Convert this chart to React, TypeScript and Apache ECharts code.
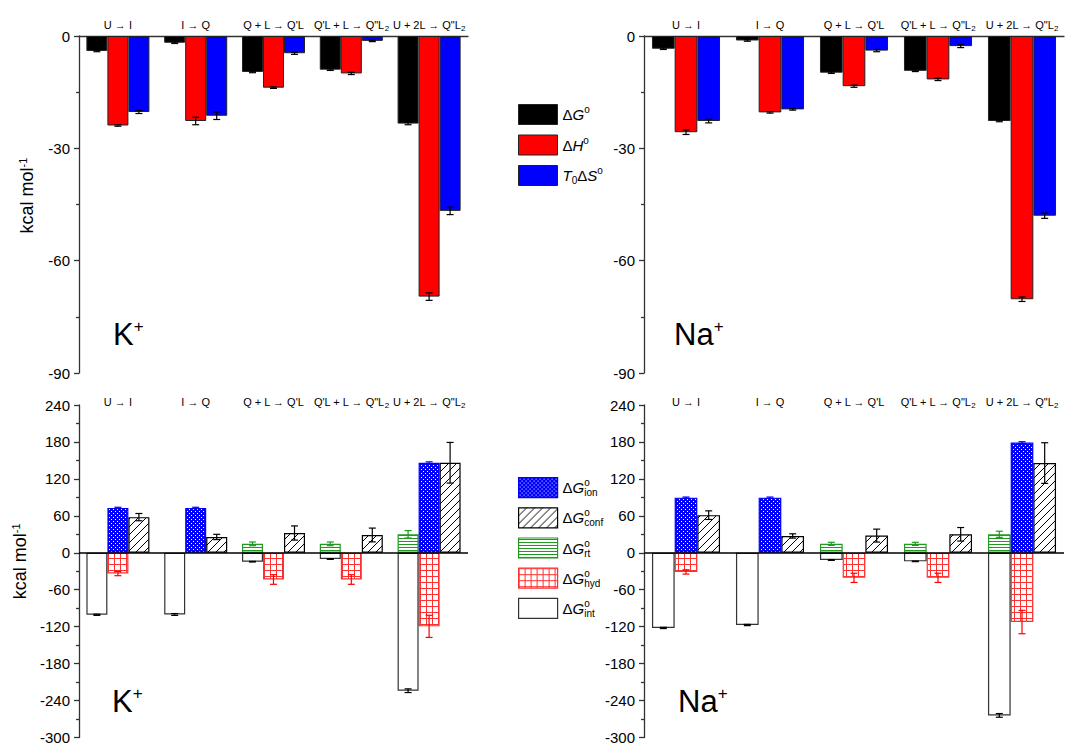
import React, { useEffect, useRef } from 'react';
import * as echarts from 'echarts';

const FONT = "'Liberation Sans', Arial, Helvetica, sans-serif";

const categories = ['U → I', 'I → Q', "Q + L → Q'L", "Q'L + L → Q\"L2", 'U + 2L → Q"L2'];

// Top panels: ΔG°, ΔH°, T0ΔS° (kcal/mol)
const dG_K = [-4.0, -1.8, -9.6, -9.0, -23.4];
const dH_K = [-23.9, -22.7, -13.8, -10.0, -69.6];
const TdS_K = [-20.3, -21.3, -4.6, -1.3, -46.7];
const dG_K_err = [0.2, 0.2, 0.2, 0.2, 0.3];
const dH_K_err = [0.2, 1.0, 0.2, 0.3, 1.0];
const TdS_K_err = [0.4, 1.0, 0.3, 0.2, 1.0];

const dG_Na = [-3.4, -1.2, -9.8, -9.3, -22.7];
const dH_Na = [-25.7, -20.4, -13.4, -11.6, -70.3];
const TdS_Na = [-22.7, -19.6, -3.9, -2.7, -48.0];
const dG_Na_err = [0.2, 0.2, 0.2, 0.2, 0.2];
const dH_Na_err = [0.6, 0.2, 0.3, 0.3, 0.6];
const TdS_Na_err = [0.5, 0.2, 0.3, 0.4, 0.7];

// Bottom panels: ΔG° components (kcal/mol)
const ion_K = [72.9, 72.9, null, null, 146.2];
const conf_K = [57.9, 25.7, 32.1, 28.9, 146.2];
const rt_K = [null, null, 14.5, 14.5, 30.0];
const hyd_K = [-33.7, null, -43.4, -43.4, -119.5];
const int_K = [-100.7, -100.2, -14.5, -10.2, -224.0];
const ion_K_err = [1.0, 1.0, null, null, 1.5];
const conf_K_err = [5.9, 4.3, 11.5, 11.2, 33.0];
const rt_K_err = [null, null, 3.0, 3.0, 6.0];
const hyd_K_err = [3.5, null, 7.8, 7.8, 18.0];
const int_K_err = [1.0, 1.5, 0.5, 0.5, 3.0];

const ion_Na = [89.5, 89.5, null, null, 178.9];
const conf_Na = [61.1, 27.3, 27.9, 30.0, 145.7];
const rt_Na = [null, null, 14.5, 14.5, 30.0];
const hyd_Na = [-31.1, null, -40.7, -40.7, -112.5];
const int_Na = [-122.1, -117.3, -11.8, -13.9, -264.1];
const ion_Na_err = [1.0, 1.0, null, null, 1.5];
const conf_Na_err = [7.0, 3.5, 10.5, 11.0, 33.0];
const rt_Na_err = [null, null, 2.5, 2.5, 5.0];
const hyd_Na_err = [3.5, null, 7.5, 7.5, 19.0];
const int_Na_err = [1.0, 1.0, 0.5, 0.5, 3.0];

const topTicks = { min: -90, max: 0, interval: 30 };
const bottomTicks = { min: -300, max: 240, interval: 60 };

const BAR_FRAC = 0.27;

function tile(w: number, h: number, draw: (ctx: CanvasRenderingContext2D) => void) {
  const c = document.createElement('canvas');
  c.width = w;
  c.height = h;
  const ctx = c.getContext('2d')!;
  draw(ctx);
  return { image: c, repeat: 'repeat', imageWidth: w, imageHeight: h } as any;
}

function makePatterns() {
  const ion = tile(4, 4, (ctx) => {
    ctx.fillStyle = '#0000ff';
    ctx.fillRect(0, 0, 4, 4);
    ctx.fillStyle = '#ffffff';
    ctx.fillRect(1, 1, 1, 1);
    ctx.fillRect(3, 3, 1, 1);
  });
  const conf = tile(8, 8, (ctx) => {
    ctx.fillStyle = '#ffffff';
    ctx.fillRect(0, 0, 8, 8);
    ctx.strokeStyle = '#000000';
    ctx.lineWidth = 1;
    for (const o of [-8, 0, 8]) {
      ctx.beginPath();
      ctx.moveTo(o, 8);
      ctx.lineTo(o + 8, 0);
      ctx.stroke();
    }
  });
  const rt = tile(4, 3, (ctx) => {
    ctx.fillStyle = '#ffffff';
    ctx.fillRect(0, 0, 4, 3);
    ctx.fillStyle = '#1f9a1f';
    ctx.fillRect(0, 1, 4, 1);
  });
  const hyd = tile(6, 6, (ctx) => {
    ctx.fillStyle = '#ffffff';
    ctx.fillRect(0, 0, 6, 6);
    ctx.fillStyle = '#ff3030';
    ctx.fillRect(0, 0, 6, 1);
    ctx.fillRect(0, 0, 1, 6);
  });
  return { ion, conf, rt, hyd };
}

const catRich = {
  s: { fontSize: 8, lineHeight: 8, padding: [6, 0, 0, 0], fontFamily: FONT, color: '#000' },
};
function catFmt(v: string) {
  return v.replace(/L2$/, 'L{s|2}');
}

function xAxis(gridIndex: number, showLine: boolean, margin: number) {
  return {
    type: 'category',
    gridIndex,
    data: categories,
    position: 'top',
    axisLine: { show: showLine, onZero: false, lineStyle: { color: '#333', width: 1.3 } },
    axisTick: { show: false },
    splitLine: { show: false },
    axisLabel: {
      interval: 0,
      fontSize: 11,
      lineHeight: 14,
      color: '#000',
      fontFamily: FONT,
      margin,
      formatter: catFmt,
      rich: catRich,
    },
  };
}

function yAxis(gridIndex: number, ticks: any, withName: boolean, namePad: number, nameGap: number) {
  return {
    type: 'value',
    gridIndex,
    min: ticks.min,
    max: ticks.max,
    interval: ticks.interval,
    position: 'left',
    axisLine: { show: true, onZero: false, lineStyle: { color: '#333', width: 1.3 } },
    axisTick: { show: true, length: 5, lineStyle: { color: '#333', width: 1.3 } },
    minorTick: { show: true, splitNumber: 2, length: 3, lineStyle: { color: '#333', width: 1.3 } },
    splitLine: { show: false },
    minorSplitLine: { show: false },
    axisLabel: { fontSize: 15, color: '#000', margin: 9, fontFamily: FONT },
    name: withName ? 'kcal mol{s|-1}' : '',
    nameLocation: 'middle',
    nameGap,
    nameTextStyle: {
      fontSize: 18,
      color: '#000',
      fontFamily: FONT,
      padding: [0, 0, 0, namePad],
      rich: { s: { fontSize: 11, padding: [0, 0, 9, 0], color: '#000', fontFamily: FONT } },
    },
  };
}

function errData(vals: any[][], errs: any[][], slots: number[], colors: string[]) {
  const out: any[] = [];
  vals.forEach((arr, s) =>
    arr.forEach((v: any, i: number) => {
      const e = errs[s][i];
      if (v != null && e != null) {
        out.push({ value: [i, v, e, slots[s]], itemStyle: { color: colors[s] } });
      }
    })
  );
  return out;
}

function errSeries(name: string, axisIndex: number, data: any[]) {
  return {
    type: 'custom',
    name,
    xAxisIndex: axisIndex,
    yAxisIndex: axisIndex,
    z: 10,
    silent: true,
    encode: { x: 0, y: 1 },
    data,
    renderItem: (params: any, api: any) => {
      const cat = api.value(0);
      const v = api.value(1);
      const e = api.value(2);
      const slot = api.value(3);
      const band = api.size([1, 0])[0];
      const off = (slot - 1) * band * BAR_FRAC;
      const p1 = api.coord([cat, v + e]);
      const p2 = api.coord([cat, v - e]);
      const x = p1[0] + off;
      const cap = 3.5;
      const color = api.visual('color');
      const style = { stroke: color, lineWidth: 1.2 };
      return {
        type: 'group',
        children: [
          { type: 'line', shape: { x1: x, y1: p1[1], x2: x, y2: p2[1] }, style },
          { type: 'line', shape: { x1: x - cap, y1: p1[1], x2: x + cap, y2: p1[1] }, style },
          { type: 'line', shape: { x1: x - cap, y1: p2[1], x2: x + cap, y2: p2[1] }, style },
        ],
      };
    },
  };
}

function topBars(axisIndex: number, dG: number[], dH: number[], TdS: number[]) {
  const base = { type: 'bar', xAxisIndex: axisIndex, yAxisIndex: axisIndex, barWidth: '27%', barGap: '0%' };
  return [
    { ...base, name: 'dG', data: dG, itemStyle: { color: '#000000', borderColor: '#222', borderWidth: 1 } },
    { ...base, name: 'dH', data: dH, itemStyle: { color: '#ff0000', borderColor: '#222', borderWidth: 1 } },
    { ...base, name: 'TdS', data: TdS, itemStyle: { color: '#0000ff', borderColor: '#222', borderWidth: 1 } },
  ];
}

function bottomBars(axisIndex: number, key: string, p: any, d: any) {
  const base = { type: 'bar', xAxisIndex: axisIndex, yAxisIndex: axisIndex, barWidth: '27%', barGap: '0%' };
  return [
    { ...base, name: 'rt', stack: key + 'a', data: d.rt, itemStyle: { color: p.rt, borderColor: '#1f9a1f', borderWidth: 1.2 } },
    { ...base, name: 'ion', stack: key + 'b', data: d.ion, itemStyle: { color: p.ion, borderColor: '#0000ff', borderWidth: 1.2 } },
    { ...base, name: 'conf', stack: key + 'c', data: d.conf, itemStyle: { color: p.conf, borderColor: '#000', borderWidth: 1.2 } },
    { ...base, name: 'hyd', stack: key + 'b', data: d.hyd, itemStyle: { color: p.hyd, borderColor: '#ff3030', borderWidth: 1.2 } },
    {
      ...base,
      name: 'int',
      stack: key + 'a',
      data: d.int,
      itemStyle: { color: '#ffffff', borderColor: '#333', borderWidth: 1.2 },
      markLine: {
        silent: true,
        symbol: 'none',
        label: { show: false },
        lineStyle: { color: '#000', width: 1.5, type: 'solid' },
        data: [{ yAxis: 0 }],
      },
    },
  ];
}

const legendRich = {
  d: { fontSize: 15, lineHeight: 20, color: '#000', fontFamily: FONT },
  i: { fontSize: 15, lineHeight: 20, fontStyle: 'italic', color: '#000', fontFamily: FONT },
  sup: { fontSize: 10, lineHeight: 10, padding: [0, 0, 10, 0], color: '#000', fontFamily: FONT },
  sup0: { fontSize: 10, lineHeight: 10, width: 0, padding: [0, 0, 10, 0], color: '#000', fontFamily: FONT },
  sub: { fontSize: 10, lineHeight: 10, padding: [10, 0, 0, 0], color: '#000', fontFamily: FONT },
};

const legendText: Record<string, string> = {
  dG: '{d|Δ}{i|G}{sup|o}',
  dH: '{d|Δ}{i|H}{sup|o}',
  TdS: '{i|T}{sub|0}{d|Δ}{i|S}{sup|o}',
  ion: '{d|Δ}{i|G}{sup0|o}{sub|ion}',
  conf: '{d|Δ}{i|G}{sup0|o}{sub|conf}',
  rt: '{d|Δ}{i|G}{sup0|o}{sub|rt}',
  hyd: '{d|Δ}{i|G}{sup0|o}{sub|hyd}',
  int: '{d|Δ}{i|G}{sup0|o}{sub|int}',
};

function panelLabel(x: number, y: number, main: string) {
  return {
    type: 'text',
    x,
    y,
    silent: true,
    style: {
      text: `{a|${main}}{b|+}`,
      verticalAlign: 'top',
      rich: {
        a: { fontSize: 31, color: '#000', fontFamily: FONT },
        b: { fontSize: 17, padding: [0, 0, 16, 0], color: '#000', fontFamily: FONT },
      },
    },
  };
}

export default function App() {
  const ref = useRef<HTMLDivElement>(null);
  useEffect(() => {
    if (!ref.current) return;
    const chart = echarts.init(ref.current, undefined, { renderer: 'svg' });
    const p = makePatterns();
    const option: any = {
      animation: false,
      backgroundColor: '#ffffff',
      textStyle: { fontFamily: FONT },
      grid: [
        { left: 79, top: 36, width: 389, height: 337 },
        { left: 644, top: 36, width: 420, height: 337 },
        { left: 79, top: 405, width: 389, height: 335 },
        { left: 644, top: 405, width: 420, height: 335 },
      ],
      xAxis: [xAxis(0, true, 4), xAxis(1, true, 4), xAxis(2, false, -4), xAxis(3, false, -4)],
      yAxis: [
        yAxis(0, topTicks, true, 18, 42),
        yAxis(1, topTicks, false, 0, 40),
        yAxis(2, bottomTicks, true, 20, 49),
        yAxis(3, bottomTicks, false, 0, 40),
      ],
      legend: [
        {
          data: ['dG', 'dH', 'TdS'],
          orient: 'vertical',
          left: 513,
          top: 99,
          itemWidth: 39,
          itemHeight: 20,
          itemGap: 9.5,
          icon: 'rect',
          selectedMode: false,
          itemStyle: { borderWidth: 1 },
          formatter: (n: string) => legendText[n],
          textStyle: { rich: legendRich },
        },
        {
          data: ['ion', 'conf', 'rt', 'hyd', 'int'],
          orient: 'vertical',
          left: 513,
          top: 472,
          itemWidth: 39,
          itemHeight: 20,
          itemGap: 9,
          icon: 'rect',
          selectedMode: false,
          itemStyle: { borderWidth: 1.2 },
          formatter: (n: string) => legendText[n],
          textStyle: { rich: legendRich },
        },
      ],
      graphic: [
        panelLabel(113, 318, 'K'),
        panelLabel(674, 318, 'Na'),
        panelLabel(112, 685, 'K'),
        panelLabel(678, 685, 'Na'),
      ],
      series: [
        ...topBars(0, dG_K, dH_K, TdS_K),
        errSeries('errTL', 0, errData([dG_K, dH_K, TdS_K], [dG_K_err, dH_K_err, TdS_K_err], [0, 1, 2], ['#000', '#000', '#000'])),
        ...topBars(1, dG_Na, dH_Na, TdS_Na),
        errSeries('errTR', 1, errData([dG_Na, dH_Na, TdS_Na], [dG_Na_err, dH_Na_err, TdS_Na_err], [0, 1, 2], ['#000', '#000', '#000'])),
        ...bottomBars(2, 'K', p, { ion: ion_K, conf: conf_K, rt: rt_K, hyd: hyd_K, int: int_K }),
        errSeries(
          'errBL',
          2,
          errData(
            [ion_K, conf_K, rt_K, hyd_K, int_K],
            [ion_K_err, conf_K_err, rt_K_err, hyd_K_err, int_K_err],
            [1, 2, 0, 1, 0],
            ['#0000ff', '#000', '#1f9a1f', '#ff0000', '#000']
          )
        ),
        ...bottomBars(3, 'Na', p, { ion: ion_Na, conf: conf_Na, rt: rt_Na, hyd: hyd_Na, int: int_Na }),
        errSeries(
          'errBR',
          3,
          errData(
            [ion_Na, conf_Na, rt_Na, hyd_Na, int_Na],
            [ion_Na_err, conf_Na_err, rt_Na_err, hyd_Na_err, int_Na_err],
            [1, 2, 0, 1, 0],
            ['#0000ff', '#000', '#1f9a1f', '#ff0000', '#000']
          )
        ),
      ],
    };
    chart.setOption(option);
    return () => chart.dispose();
  }, []);
  return <div ref={ref} style={{ position: 'fixed', left: 0, top: 0, width: 1080, height: 745 }} />;
}
